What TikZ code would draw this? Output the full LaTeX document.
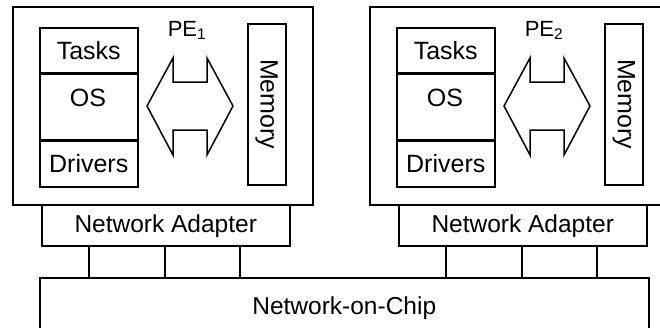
\documentclass[tikz,border=0pt]{standalone}
\usepackage{fontspec}
\setmainfont{Liberation Sans}
\usetikzlibrary{calc}
\begin{document}
\begin{tikzpicture}[x=1pt, y=-1pt, line width=1.5pt,
  every node/.append style={font=\fontsize{25}{29}\selectfont},
  box/.style={draw, rectangle, inner sep=0pt, anchor=north west},
  netfont/.style={font=\fontsize{24.5}{28}\selectfont},
  pefont/.style={font=\fontsize{22}{26}\selectfont},
]
\useasboundingbox (0,0) rectangle (660,327);
\clip (0,0) rectangle (660,327);

% two processing elements, each with its network adapter
\foreach \i/\dx in {1/12, 2/369} {
  \begin{scope}[xshift=\dx]
    \node[box, minimum width=300, minimum height=198] (pe\i) at (0,6) {};
    % software stack
    \node[box, minimum width=98, minimum height=45] (tasks\i) at (27,27) {Tasks};
    \node[box, minimum width=98, minimum height=65] (os\i) at (tasks\i.south west) {};
    \node[anchor=base] (oslabel\i) at (76,106) {OS};
    \node[box, minimum width=98, minimum height=46] (drv\i) at (os\i.south west) {Drivers};
    % local memory
    \node[box, minimum width=38, minimum height=161] (mem\i) at (235,23) {\rotatebox{-90}{Memory}};
    \node[pefont, anchor=base] (pelabel\i) at (175,36) {PE\textsubscript{\i}};
    % bus between stack and memory
    \draw (135,106) -- (161,58) -- (161,82) -- (195,82) -- (195,58) -- (221,106)
          -- (195,155) -- (195,130) -- (161,130) -- (161,155) -- cycle;
    \node[box, netfont, minimum width=248, minimum height=41, text depth=0.35em] (na\i) at (29,204) {Network Adapter};
  \end{scope}
}

\node[box, netfont, minimum width=609, minimum height=60] (noc) at (39,277) {Network-on-Chip};

% links from each adapter into the network
\foreach \i in {1,2} {
  \foreach \o/\k in {-77/a, -1/b, 74/c} {
    \coordinate (tap\i\k) at ($(na\i.south)+(\o,0)$);
    \draw (tap\i\k) -- (tap\i\k |- noc.north);
  }
}
\end{tikzpicture}
\end{document}
